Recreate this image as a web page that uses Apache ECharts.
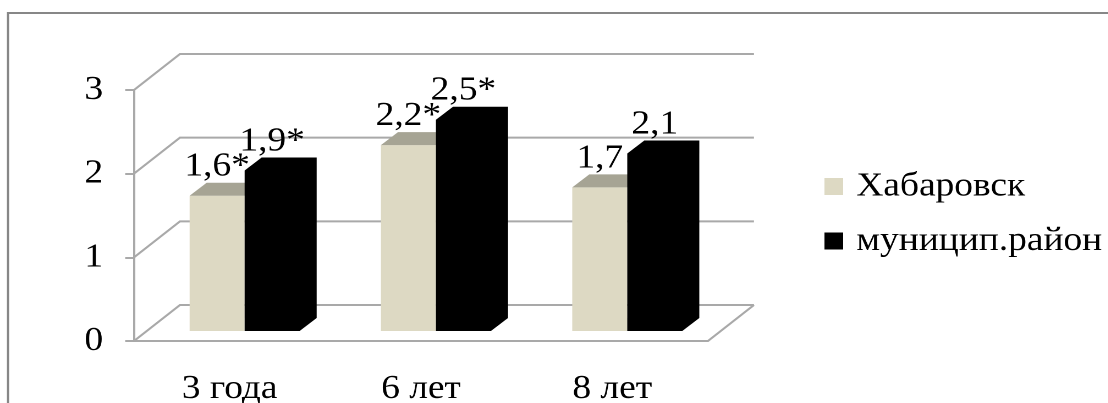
<!DOCTYPE html>
<html>
<head>
<meta charset="utf-8">
<script src="https://cdn.jsdelivr.net/npm/echarts@6/dist/echarts.min.js"></script>
<style>
  html, body { margin: 0; padding: 0; background: #fff; overflow: hidden; }
  #wrap { width: 1108px; height: 403px; overflow: hidden; position: relative; }
  /* the chart is laid out narrower and widened horizontally as a whole */
  #chart { width: 1007.3px; height: 403px; transform: scaleX(1.1); transform-origin: 0 0; }
</style>
</head>
<body>
<div id="wrap"><div id="chart"></div></div>
<script>
// ---- data ----
const categories = ['3 года', '6 лет', '8 лет'];
const seriesNames = ['Хабаровск', 'муницип.район'];
const khabarovsk = [1.6, 2.2, 1.7];
const district = [1.9, 2.5, 2.1];
// significant differences are marked with an asterisk
const khabarovskSig = [true, true, false];
const districtSig = [true, true, false];
const yTicks = [0, 1, 2, 3];

// ---- look ----
const FONT = '"Liberation Serif", serif';
const FONT_SIZE = 34;
const GRID_COLOR = '#a9a9a9';
const BEIGE = '#ddd9c3';
const BEIGE_TOP = '#a6a494';
const BLACK = '#000000';
const BACK_DX = 41.8, BACK_DY = -36;     // back wall offset from the front plane
const PLANE_DX = 13.6, PLANE_DY = -10;   // plane in which the bars stand
const PLANE_K = 1.01;                    // slight perspective scale of that plane
const DEPTH_DX = 15.5, DEPTH_DY = -13;   // bar depth
const BAR_FRAC = 0.2875;                 // bar width as share of a category band

function fmt(v, sig) {
  return v.toFixed(1).replace('.', ',') + (sig ? '*' : '');
}

// wall / floor grid drawn from the value axis ticks
function renderWall(params, api) {
  const cs = params.coordSys;
  const y = api.coord([0, api.value(1)])[1];
  const style = { stroke: GRID_COLOR, lineWidth: 2, fill: null };
  const children = [{
    type: 'polyline',
    shape: { points: [[cs.x, y], [cs.x + BACK_DX, y + BACK_DY], [cs.x + cs.width + BACK_DX, y + BACK_DY]] },
    style: style
  }];
  if (api.value(1) === 0) {
    children.push({
      type: 'line',
      shape: { x1: cs.x + cs.width, y1: y, x2: cs.x + cs.width + BACK_DX, y2: y + BACK_DY },
      style: style
    });
  }
  return { type: 'group', children: children };
}

function barGeom(api, side) {
  const idx = api.value(0);
  const base = api.coord([idx, 0]);
  const top = api.coord([idx, api.value(1)]);
  const bw = api.size([1, 0])[0] * BAR_FRAC;
  const cx = base[0] + PLANE_DX;
  const y0 = base[1] + PLANE_DY;
  const yT = y0 - (base[1] - top[1]) * PLANE_K;
  const L = side < 0 ? cx - bw : cx;
  const R = L + bw;
  return { L: L, R: R, B: y0, T: yT };
}

function labelEl(g, text) {
  return {
    type: 'text',
    z2: 10,
    style: {
      text: text,
      x: (g.L + g.R) / 2,
      y: g.T + DEPTH_DY + 1,
      align: 'center', verticalAlign: 'bottom',
      textAlign: 'center', textVerticalAlign: 'bottom',
      fontFamily: FONT, fontSize: FONT_SIZE,
      fill: '#000'
    }
  };
}

function renderBeige(params, api) {
  const g = barGeom(api, -1);
  const i = api.value(0);
  return {
    type: 'group',
    children: [
      { type: 'rect', shape: { x: g.L, y: g.T, width: g.R - g.L, height: g.B - g.T }, style: { fill: BEIGE } },
      { type: 'polygon', shape: { points: [[g.L, g.T], [g.L + DEPTH_DX, g.T + DEPTH_DY], [g.R + DEPTH_DX, g.T + DEPTH_DY], [g.R, g.T]] }, style: { fill: BEIGE_TOP } },
      labelEl(g, fmt(khabarovsk[i], khabarovskSig[i]))
    ]
  };
}

function renderBlack(params, api) {
  const g = barGeom(api, 1);
  const i = api.value(0);
  return {
    type: 'group',
    children: [
      { type: 'polygon', shape: { points: [
          [g.L, g.T], [g.L + DEPTH_DX, g.T + DEPTH_DY], [g.R + DEPTH_DX, g.T + DEPTH_DY],
          [g.R + DEPTH_DX, g.B + DEPTH_DY], [g.R, g.B], [g.L, g.B]] }, style: { fill: BLACK } },
      labelEl(g, fmt(district[i], districtSig[i]))
    ]
  };
}

const chart = echarts.init(document.getElementById('chart'), null, { renderer: 'canvas', devicePixelRatio: 2 });
chart.setOption({
  animation: false,
  backgroundColor: '#fff',
  textStyle: { fontFamily: FONT },
  graphic: [{
    type: 'rect', silent: true, z: -10,
    shape: { x: 7.3, y: 13, width: 1100, height: 600 },
    style: { fill: null, stroke: '#878787', lineWidth: 2 }
  }],
  grid: { left: 121.8, top: 90, width: 521.8, height: 251, outerBoundsMode: 'none', containLabel: false },
  legend: {
    orient: 'vertical',
    left: 744.5, top: 164.5,
    itemWidth: 17, itemHeight: 17, itemGap: 20.5,
    icon: 'rect',
    textStyle: { fontFamily: FONT, fontSize: FONT_SIZE, color: '#000', padding: [0, 0, 0, 7] },
    data: [
      { name: seriesNames[0], itemStyle: { color: BEIGE } },
      { name: seriesNames[1], itemStyle: { color: BLACK } }
    ]
  },
  xAxis: {
    type: 'category',
    data: categories,
    axisLine: { lineStyle: { color: GRID_COLOR, width: 2 } },
    axisTick: { length: 11, lineStyle: { color: GRID_COLOR, width: 2 } },
    axisLabel: { fontFamily: FONT, fontSize: FONT_SIZE, color: '#000', margin: 31 },
    splitLine: { show: false }
  },
  yAxis: {
    type: 'value',
    min: 0, max: 3, interval: 1,
    axisLine: { show: true, lineStyle: { color: GRID_COLOR, width: 2 } },
    axisTick: { show: true, length: 8, lineStyle: { color: GRID_COLOR, width: 2 } },
    axisLabel: { fontFamily: FONT, fontSize: FONT_SIZE, color: '#000', margin: 28 },
    splitLine: { show: false }
  },
  series: [
    {
      type: 'custom', name: 'wall', silent: true, z: 1,
      renderItem: renderWall,
      data: yTicks.map(v => [0, v])
    },
    {
      type: 'custom', name: seriesNames[0], z: 2,
      itemStyle: { color: BEIGE },
      renderItem: renderBeige,
      data: khabarovsk.map((v, i) => [i, v])
    },
    {
      type: 'custom', name: seriesNames[1], z: 3,
      itemStyle: { color: BLACK },
      renderItem: renderBlack,
      data: district.map((v, i) => [i, v])
    }
  ]
});
</script>
</body>
</html>
